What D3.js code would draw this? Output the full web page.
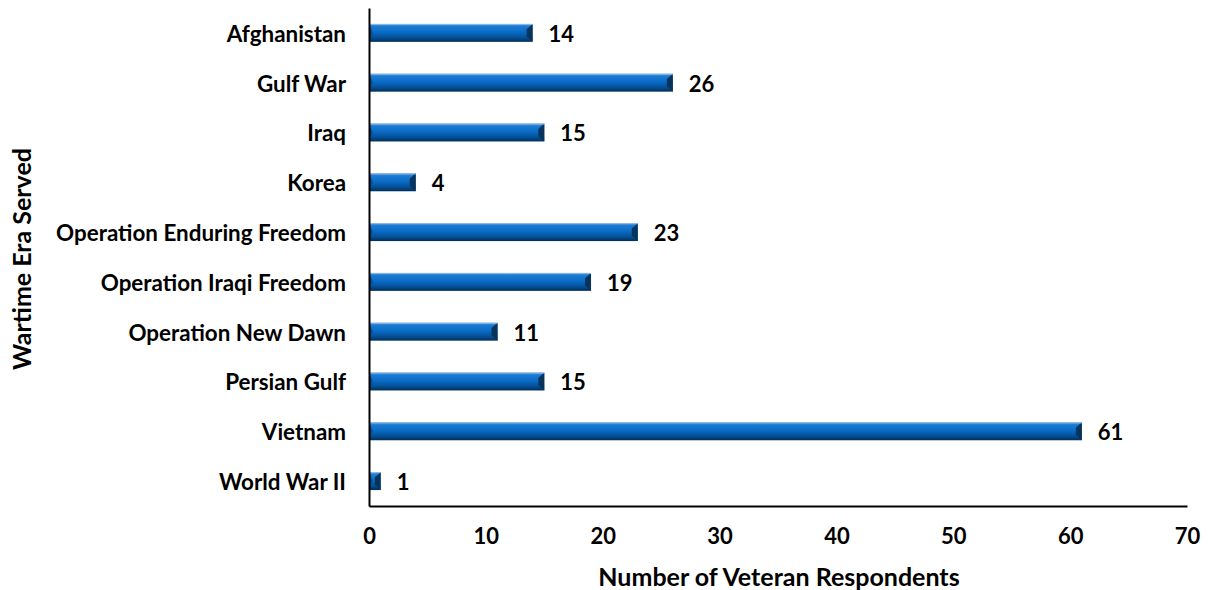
<!DOCTYPE html>
<html>
<head>
<meta charset="utf-8">
<script src="https://cdn.jsdelivr.net/npm/d3@7"></script>
<style>
  body { margin: 0; background: #fff; }
  text { font-family: Lato, "Open Sans", sans-serif; font-weight: 700; fill: #000; }
</style>
</head>
<body>
<div id="chart"></div>
<script>
// chart values
var categories = ["Afghanistan", "Gulf War", "Iraq", "Korea", "Operation Enduring Freedom",
  "Operation Iraqi Freedom", "Operation New Dawn", "Persian Gulf", "Vietnam", "World War II"];
var respondents = [14, 26, 15, 4, 23, 19, 11, 15, 61, 1];
var xTicks = [0, 10, 20, 30, 40, 50, 60, 70];
var xTitle = "Number of Veteran Respondents";
var yTitle = "Wartime Era Served";

var W = 1208, H = 590;
var margin = { top: 8, right: 21, bottom: 84, left: 369 };
var width = W - margin.left - margin.right,
    height = H - margin.top - margin.bottom;

var svg = d3.select("#chart").append("svg")
  .attr("width", W)
  .attr("height", H);

var defs = svg.append("defs");
var grad = defs.append("linearGradient")
  .attr("id", "barGrad")
  .attr("x1", 0).attr("y1", 0).attr("x2", 0).attr("y2", 1);
grad.append("stop").attr("offset", "0%").attr("stop-color", "#5a9ad8");
grad.append("stop").attr("offset", "14%").attr("stop-color", "#1a7bd4");
grad.append("stop").attr("offset", "45%").attr("stop-color", "#0a6cc6");
grad.append("stop").attr("offset", "75%").attr("stop-color", "#04519a");
grad.append("stop").attr("offset", "100%").attr("stop-color", "#022f58");

var g = svg.append("g")
  .attr("transform", "translate(" + margin.left + "," + margin.top + ")");

var x = d3.scaleLinear().domain([0, 70]).range([0, width]);
var y = d3.scaleBand().domain(categories).range([0, height]).paddingInner(0.64).paddingOuter(0.32);

// bars
var bars = g.selectAll(".bar")
  .data(categories)
  .enter().append("g")
  .attr("class", "bar");

bars.append("rect")
  .attr("x", 0)
  .attr("y", function (d) { return y(d); })
  .attr("width", function (d, i) { return x(respondents[i]); })
  .attr("height", y.bandwidth())
  .attr("fill", "url(#barGrad)");

// bevel on the right end
bars.append("path")
  .attr("d", function (d, i) {
    var x1 = x(respondents[i]), y0 = y(d), bh = y.bandwidth();
    var b = Math.min(6, x1 / 2);
    return "M" + x1 + "," + y0 + "L" + (x1 - b) + "," + (y0 + bh * 0.3) +
      "L" + (x1 - b) + "," + (y0 + bh * 0.7) + "L" + x1 + "," + (y0 + bh) + "Z";
  })
  .attr("fill", "#08345c");

// bevel on the left end
bars.append("path")
  .attr("d", function (d, i) {
    var y0 = y(d), bh = y.bandwidth();
    var b = Math.min(4, x(respondents[i]) / 2);
    return "M0," + y0 + "L" + b + "," + (y0 + bh * 0.5) + "L0," + (y0 + bh) + "Z";
  })
  .attr("fill", "#0d4f8d");

// top highlight
bars.append("line")
  .attr("x1", 0)
  .attr("x2", function (d, i) { return x(respondents[i]); })
  .attr("y1", function (d) { return y(d) + 0.5; })
  .attr("y2", function (d) { return y(d) + 0.5; })
  .attr("stroke", "#8fb8e2")
  .attr("stroke-width", 1);

// value labels
g.selectAll(".val")
  .data(categories)
  .enter().append("text")
  .attr("class", "val")
  .attr("x", function (d, i) { return x(respondents[i]) + 16; })
  .attr("y", function (d) { return y(d) + y.bandwidth() / 2 + 1; })
  .attr("dy", "0.36em")
  .style("font-size", "22px")
  .text(function (d, i) { return respondents[i]; });

// axes
var xAxis = g.append("g")
  .attr("class", "x axis")
  .attr("transform", "translate(0," + height + ")")
  .call(d3.axisBottom(x).tickValues(xTicks).tickSize(0).tickPadding(22));
xAxis.select(".domain").attr("stroke", "#000").attr("stroke-width", 2);
xAxis.selectAll("text").style("font-size", "22px").style("font-family", "Lato, sans-serif").attr("fill", "#000");

var yAxis = g.append("g")
  .attr("class", "y axis")
  .call(d3.axisLeft(y).tickSize(0).tickPadding(23));
yAxis.select(".domain").attr("stroke", "#000").attr("stroke-width", 2);
yAxis.selectAll("text")
  .style("font-size", "22.4px")
  .style("font-family", "Lato, sans-serif")
  .attr("fill", "#000")
  .attr("dy", "0.4em");

// axis titles
svg.append("text")
  .attr("x", 779)
  .attr("y", 577)
  .attr("dy", "0.35em")
  .style("text-anchor", "middle")
  .style("font-size", "25px")
  .text(xTitle);

svg.append("text")
  .attr("transform", "rotate(-90)")
  .attr("x", -259)
  .attr("y", 22)
  .attr("dy", "0.35em")
  .style("text-anchor", "middle")
  .style("font-size", "25px")
  .text(yTitle);
</script>
</body>
</html>
